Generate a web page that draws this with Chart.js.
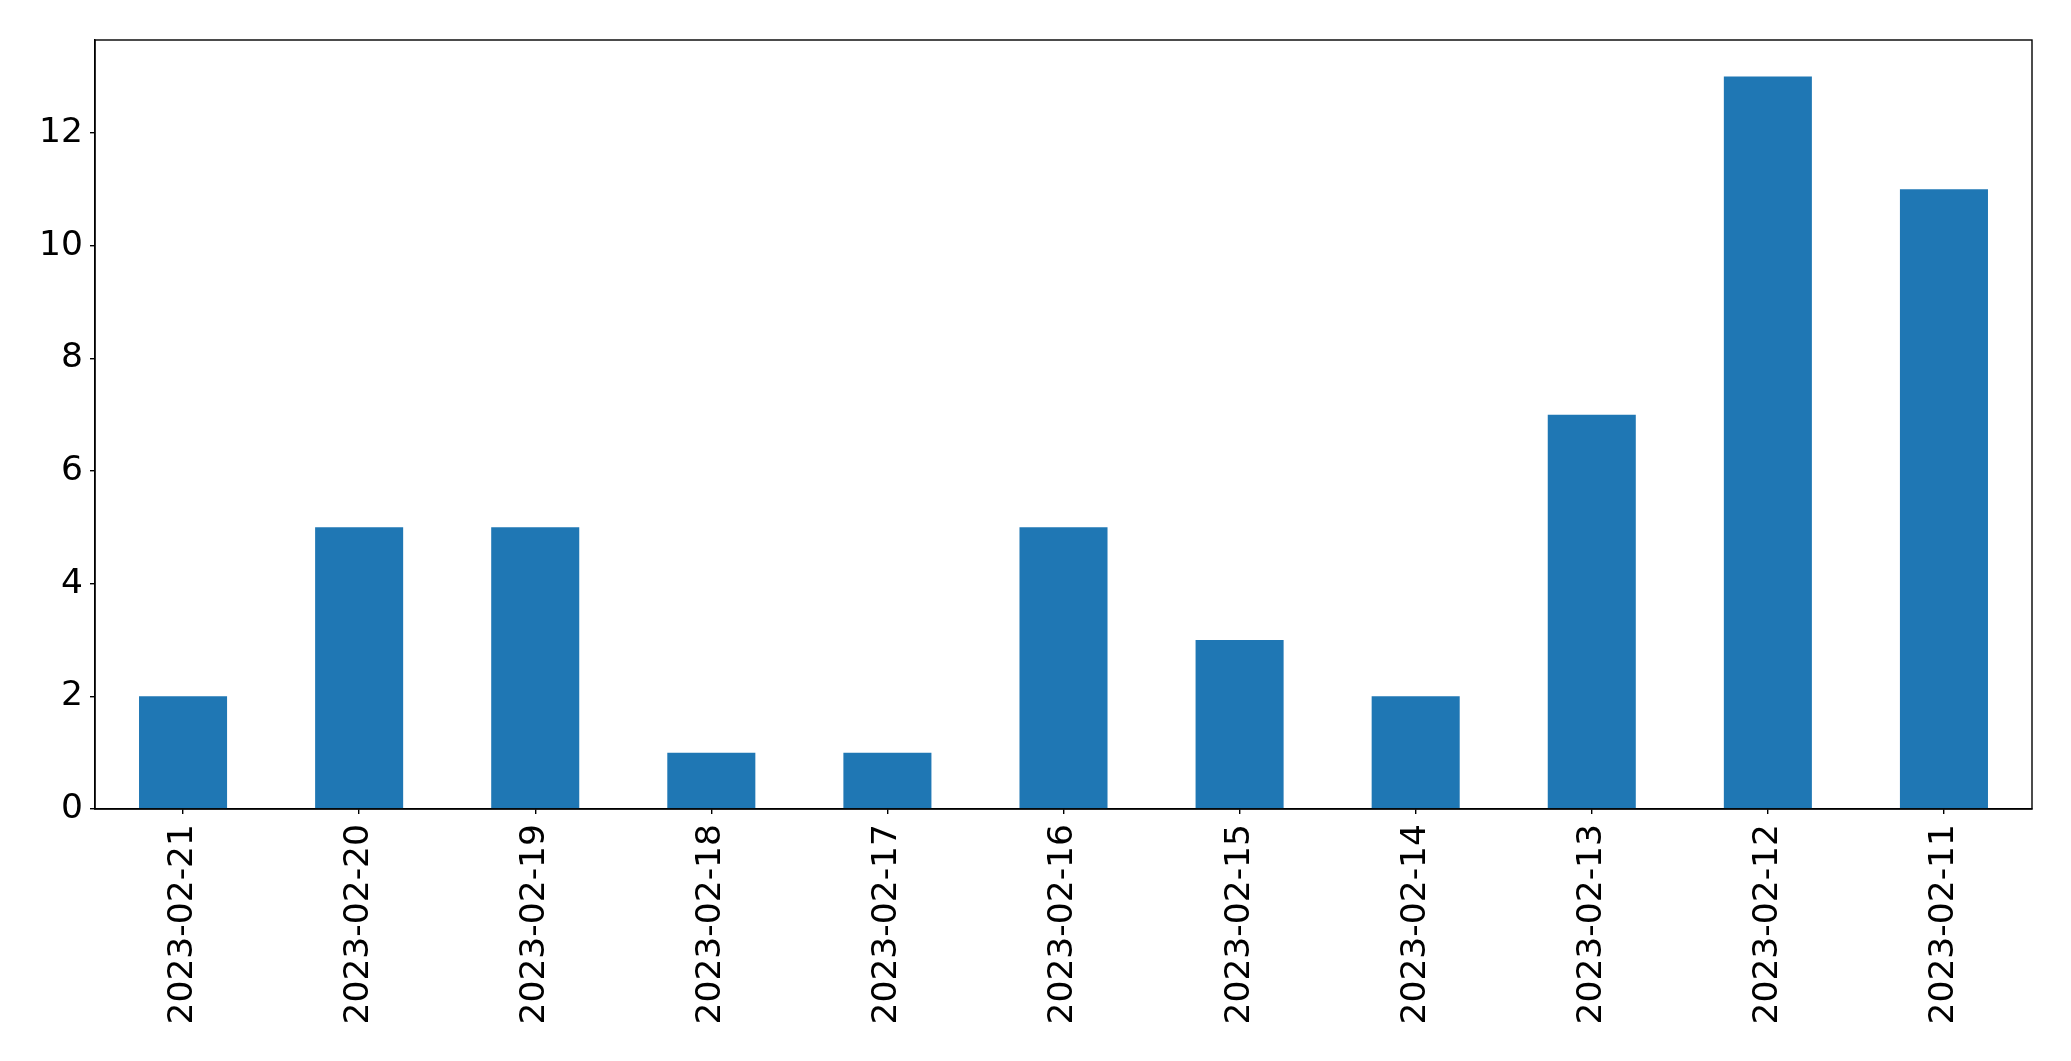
<!DOCTYPE html>
<html>
<head>
<meta charset="utf-8">
<script src="https://cdn.jsdelivr.net/npm/chart.js@4/dist/chart.umd.min.js"></script>
<style>
html,body{margin:0;padding:0;background:#fff;}
#wrap{width:2071px;height:1061px;position:relative;}
</style>
</head>
<body>
<div id="wrap"><canvas id="c" width="2071" height="1061"></canvas></div>
<script>
const categories = ["2023-02-21","2023-02-20","2023-02-19","2023-02-18","2023-02-17","2023-02-16","2023-02-15","2023-02-14","2023-02-13","2023-02-12","2023-02-11"];
const counts = [2,5,5,1,1,5,3,2,7,13,11];
const yTicks = [0,2,4,6,8,10,12];
const yMax = 13.65;

const FONT = {family:"'DejaVu Sans'", size:34.5};

const frame = {
  id:'frame',
  afterDraw(chart){
    const a = chart.chartArea, ctx = chart.ctx;
    ctx.save();
    ctx.strokeStyle = '#000';
    ctx.lineWidth = 1.4;
    ctx.strokeRect(a.left, a.top, a.right - a.left, a.bottom - a.top);
    ctx.restore();
  }
};

new Chart(document.getElementById('c'), {
  type:'bar',
  data:{
    labels:categories,
    datasets:[{data:counts, backgroundColor:'#1f77b4', borderWidth:0,
      categoryPercentage:1.0, barPercentage:0.5}]
  },
  options:{
    responsive:false,
    animation:false,
    devicePixelRatio:1,
    layout:{padding:{top:40, right:39, left:0, bottom:0}},
    plugins:{legend:{display:false}, tooltip:{enabled:false}},
    scales:{
      x:{
        offset:true,
        grid:{display:true, offset:false, drawOnChartArea:false, drawTicks:true, tickLength:5, color:'#000', lineWidth:1.4},
        border:{display:true, color:'#000', width:1.4},
        ticks:{color:'#000', font:FONT, minRotation:90, maxRotation:90, autoSkip:false, padding:10},
        afterFit(s){ s.height = 252; }
      },
      y:{
        min:0, max:yMax,
        afterBuildTicks(s){ s.ticks = yTicks.map(v=>({value:v})); },
        grid:{display:true, drawOnChartArea:false, drawTicks:true, tickLength:5, color:'#000', lineWidth:1.4},
        border:{display:true, color:'#000', width:1.4},
        ticks:{color:'#000', font:FONT, padding:7},
        afterFit(s){ s.width = 95; }
      }
    }
  },
  plugins:[frame]
});
</script>
</body>
</html>
